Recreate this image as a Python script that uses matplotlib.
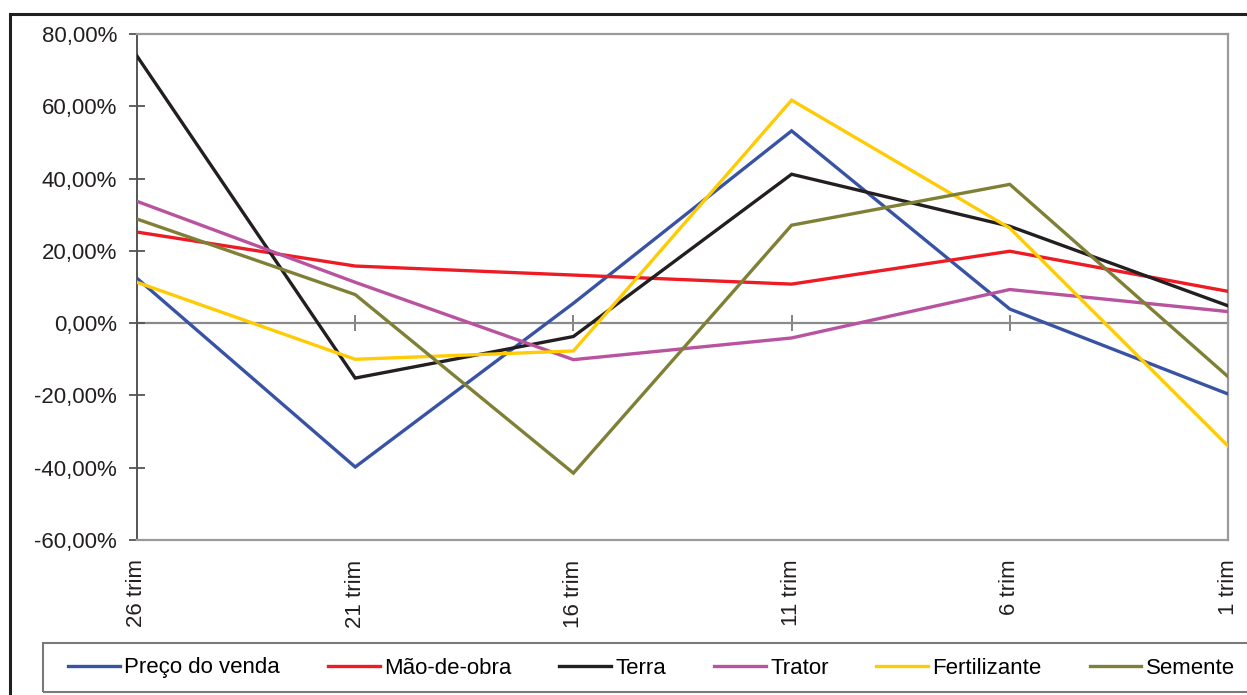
import matplotlib
matplotlib.use("Agg")
import matplotlib.pyplot as plt
from matplotlib.ticker import FuncFormatter, NullFormatter
from matplotlib.patches import Rectangle

plt.rcParams['font.family'] = ['Liberation Sans', 'DejaVu Sans']

# Quarterly variation per cost item (%)
categories = ['26 trim', '21 trim', '16 trim', '11 trim', '6 trim', '1 trim']
preco_venda = [12.4, -39.8, 5.5, 53.2, 3.9, -19.6]
mao_de_obra = [25.2, 15.8, 13.3, 10.8, 19.9, 8.8]
terra = [73.9, -15.2, -3.7, 41.2, 26.8, 4.8]
trator = [33.7, 11.3, -10.1, -4.1, 9.3, 3.2]
fertilizante = [11.3, -10.0, -7.7, 61.7, 26.3, -34.0]
semente = [28.8, 7.9, -41.5, 27.1, 38.4, -14.8]

series = [
    ('Preço do venda', preco_venda, '#3953A4'),
    ('Mão-de-obra', mao_de_obra, '#ED1C24'),
    ('Terra', terra, '#231F20'),
    ('Trator', trator, '#B9529F'),
    ('Fertilizante', fertilizante, '#FFCB05'),
    ('Semente', semente, '#7F8036'),
]

y_ticks = [80, 60, 40, 20, 0, -20, -40, -60]
ymin, ymax = -60, 80

W, H = 1247, 695
fig = plt.figure(figsize=(W / 100, H / 100), dpi=100)
fig.patch.set_facecolor('white')

# outer frame of the figure
fig.patches.append(Rectangle((10 / W, -0.05), 1.1, 1 - 14 / H + 0.05,
                             transform=fig.transFigure, fill=False,
                             edgecolor='#231F20', linewidth=2.2, zorder=0))

ax = fig.add_axes([137 / W, 1 - 540 / H, (1228 - 137) / W, (540 - 34) / H])

x = list(range(len(categories)))
handles = []
for name, vals, color in series:
    h, = ax.plot(x, vals, color=color, linewidth=2.4, label=name,
                 solid_joinstyle='miter', zorder=3)
    handles.append(h)

ax.set_xlim(0, len(categories) - 1)
ax.set_ylim(ymin, ymax)
ax.set_yticks(y_ticks)
ax.yaxis.set_major_formatter(FuncFormatter(
    lambda v, p: ('%.2f%%' % v).replace('.', ',')))
ax.tick_params(axis='y', direction='inout', length=11.5, width=1.3,
               color='#555555', pad=8.5, labelsize=16, labelcolor='#231F20')

ax.set_xticks(x)
ax.set_xticklabels(categories, rotation=90, fontsize=16, color='#231F20')
ax.tick_params(axis='x', length=0, pad=14)

for side in ['top', 'right', 'bottom']:
    ax.spines[side].set_color('#9A9A9A')
    ax.spines[side].set_linewidth(1.6)
ax.spines['left'].set_color('#555555')
ax.spines['left'].set_linewidth(1.4)

# zero line with category ticks
sec = ax.secondary_xaxis((0 - ymin) / (ymax - ymin))
sec.set_xticks(x)
sec.xaxis.set_major_formatter(NullFormatter())
sec.tick_params(direction='inout', length=11, width=1.2, color='#6E6E6E')
sec.spines['bottom'].set_color('#8A8A8A')
sec.spines['bottom'].set_linewidth(1.6)

# legend box along the bottom
fig.patches.append(Rectangle((43 / W, 1 - 692 / H), 1.2, (692 - 643) / H,
                             transform=fig.transFigure, fill=False,
                             edgecolor='#7A7A7A', linewidth=1.5, zorder=1))
fig.legend(handles=handles, loc='center left',
           bbox_to_anchor=(68 / W, 1 - 668 / H), ncol=6, frameon=False,
           fontsize=16, handlelength=2.33, handletextpad=0.2,
           columnspacing=2.15, borderpad=0, borderaxespad=0)

fig.savefig('out.png', dpi=100, facecolor='white')
